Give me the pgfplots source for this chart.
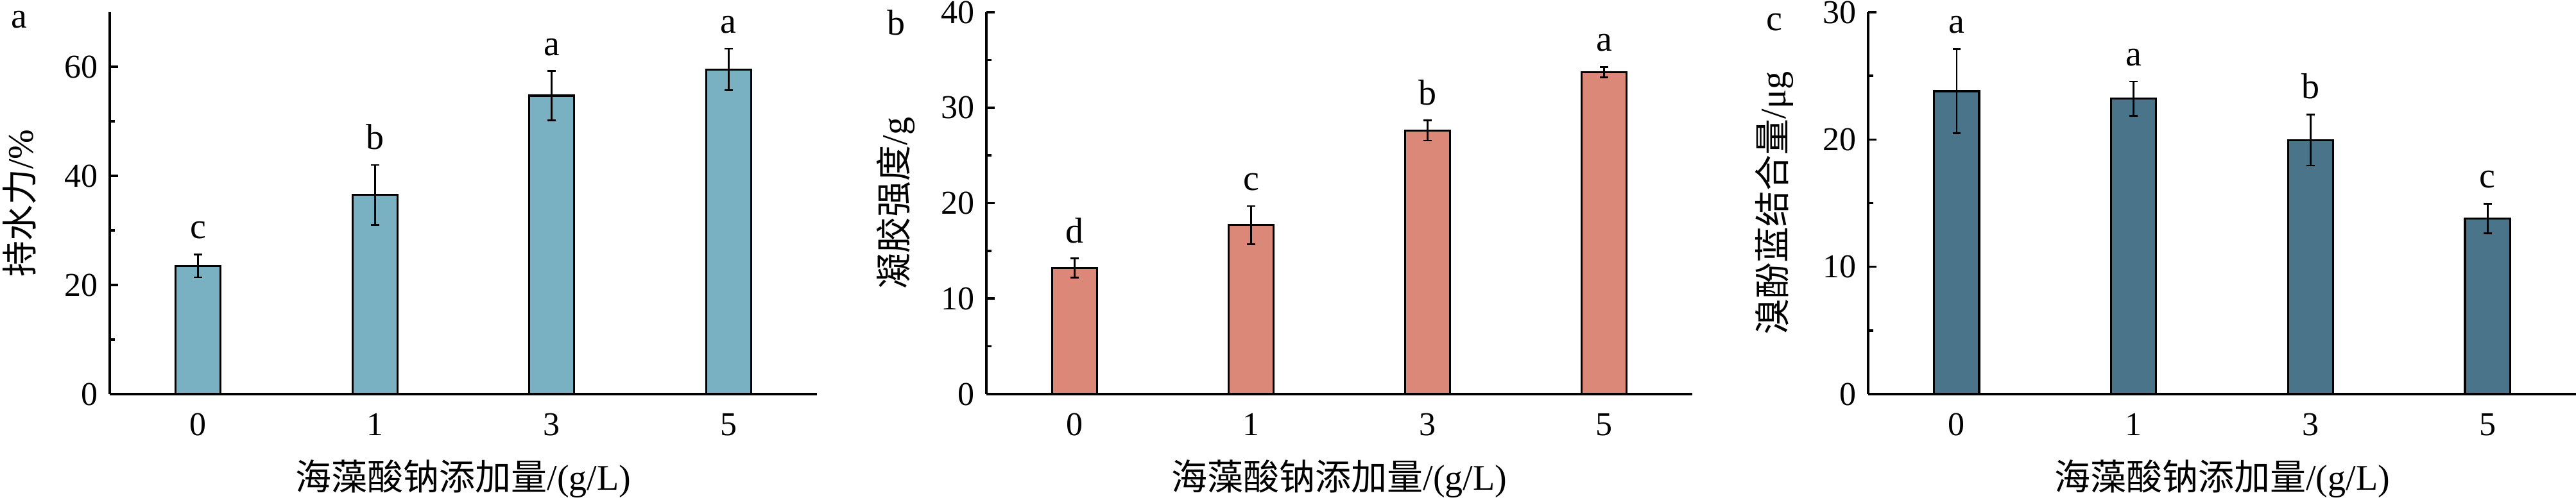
\documentclass[border=0pt]{standalone}
\usepackage{pgfplots}
\pgfplotsset{compat=1.18}
\usepackage{pgfplotstable}
\usepackage{fontspec}
\setmainfont{Liberation Serif}
\newfontfamily\cjk{Noto Sans CJK SC}
\definecolor{ca}{HTML}{7AB1C2}
\definecolor{cb}{HTML}{DC8878}
\definecolor{cc}{HTML}{4A7489}
\pgfplotstableread{
x y e lab
0 23.5 2.1 c
1 36.5 5.5 b
2 54.7 4.5 a
3 59.5 3.8 a
}\dataA
\pgfplotstableread{
x y e lab
0 13.2 1.0 d
1 17.7 2.0 c
2 27.6 1.05 b
3 33.7 0.55 a
}\dataB
\pgfplotstableread{
x y e lab
0 23.8 3.3 a
1 23.2 1.35 a
2 19.95 2.0 b
3 13.8 1.15 c
}\dataC
\pgfplotsset{
  panel/.style={
    scale only axis,
    width=275.5pt, height=148.75pt,
    anchor=south west,
    axis x line*=bottom, axis y line*=left,
    axis line style={line width=0.9pt},
    xmin=-0.5, xmax=3.5,
    ymin=0,
    xtick={0,1,2,3}, xticklabels={0,1,3,5},
    major x tick style={draw=none},
    tick align=inside,
    major tick length=3.3pt, minor tick length=2pt,
    tick style={line width=0.9pt, black},
    minor y tick num=1,
    ticklabel style={font=\fontsize{13}{13}\selectfont},
    xticklabel style={yshift=-4pt},
    yticklabel style={xshift=-1pt},
    /pgf/number format/assume math mode=true,
    xlabel={{\cjk 海藻酸钠添加量}/(g/L)},
    xlabel style={font=\fontsize{14}{14}\selectfont, at={([yshift=-33pt]axis description cs:0.5,0)}, anchor=center},
    ylabel style={font=\fontsize{14}{14}\selectfont, at={([xshift=-35.25pt]axis description cs:0,0.5)}, anchor=center},
    clip=false,
  },
  bars/.style={ybar, bar width=0.255, draw=black, line width=0.8pt,
    error bars/y dir=both, error bars/y explicit,
    error bars/error bar style={line width=0.7pt, black},
    error bars/error mark options={rotate=90, mark size=1.6pt, line width=0.7pt, black}},
  letters/.style={draw=none, mark=none, nodes near coords, point meta=explicit symbolic,
    nodes near coords style={anchor=south, yshift=2.5pt, font=\fontsize{14}{14}\selectfont, black}},
}
\begin{document}
\begin{tikzpicture}
\useasboundingbox (0,0) rectangle (1003.5pt,194.75pt);
\begin{axis}[panel, at={(42.75pt,41.25pt)}, ymax=70, ytick={0,20,40,60},
  ylabel={{\cjk 持水力}/\%}]
\addplot[bars, fill=ca] table[x=x, y=y, y error=e] {\dataA};
\addplot[letters] table[x=x, y expr=\thisrow{y}+\thisrow{e}, meta=lab] {\dataA};
\node[font=\fontsize{14}{14}\selectfont] at ([xshift=-35.25pt,yshift=-3pt]rel axis cs:0,1) {a};
\end{axis}
\begin{axis}[panel, at={(384.25pt,41.25pt)}, width=275pt, ymax=40, ytick={0,10,20,30,40},
  ylabel={{\cjk 凝胶强度}/g}]
\addplot[bars, fill=cb] table[x=x, y=y, y error=e] {\dataB};
\addplot[letters] table[x=x, y expr=\thisrow{y}+\thisrow{e}, meta=lab] {\dataB};
\node[font=\fontsize{14}{14}\selectfont] at ([xshift=-35.25pt,yshift=-4pt]rel axis cs:0,1) {b};
\end{axis}
\begin{axis}[panel, at={(727.75pt,41.25pt)}, width=275.75pt, ymax=30, ytick={0,10,20,30},
  ylabel={{\cjk 溴酚蓝结合量}/μg},
  ylabel style={at={([xshift=-36.5pt]axis description cs:0,0.5)}}]
\addplot[bars, fill=cc] table[x=x, y=y, y error=e] {\dataC};
\addplot[letters] table[x=x, y expr=\thisrow{y}+\thisrow{e}, meta=lab] {\dataC};
\node[font=\fontsize{14}{14}\selectfont] at ([xshift=-36.5pt,yshift=-4pt]rel axis cs:0,1) {c};
\end{axis}
\end{tikzpicture}
\end{document}
